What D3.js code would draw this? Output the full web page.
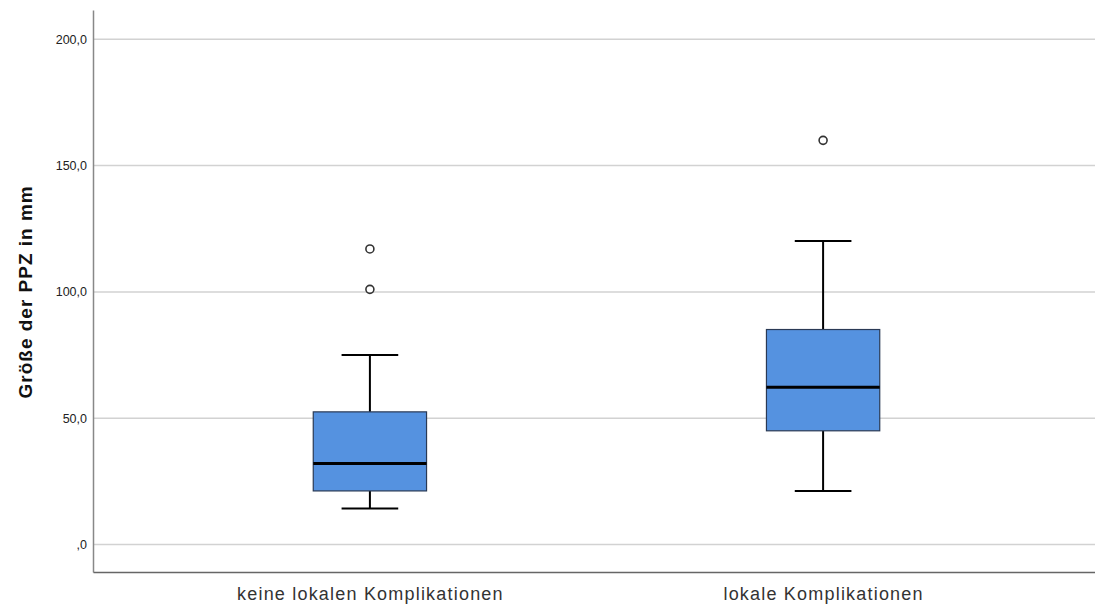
<!DOCTYPE html>
<html><head><meta charset="utf-8">
<script src="https://cdn.jsdelivr.net/npm/d3@7"></script>
<style>body{margin:0;background:#fff}svg{display:block}</style>
</head><body>
<svg id="c" width="1095" height="606"></svg>
<script>
const categories = ["keine lokalen Komplikationen", "lokale Komplikationen"];
const q1 = [21.2, 45.0];
const median = [32.1, 62.2];
const q3 = [52.5, 85.1];
const whiskerLow = [14.2, 21.2];
const whiskerHigh = [75.0, 120.1];
const outliers = [[117.0, 101.0], [160.0]];
const yTicks = [0, 50, 100, 150, 200];
const yTickLabels = [",0", "50,0", "100,0", "150,0", "200,0"];
const yLabel = "Größe der PPZ in mm";

(function () {
const svg = d3.select("#c");
const mLeft = 93, mRight = 1100, mTop = 10, mBottom = 572;
const y = d3.scaleLinear().domain([-10.9, 211.6]).range([mBottom, mTop]);
const x = d3.scalePoint().domain(categories).range([mLeft, mRight]).padding(0.611);
const bw = x.step() * 0.25;
const capW = bw * 0.5;

// gridlines
svg.append("g").selectAll("line").data(yTicks).join("line")
  .attr("x1", mLeft).attr("x2", 1095)
  .attr("y1", d => y(d)).attr("y2", d => y(d))
  .attr("stroke", "#d2d2d2").attr("stroke-width", 1.5);

// y axis
const yAxis = d3.axisLeft(y).tickValues(yTicks).tickSize(0).tickPadding(6)
  .tickFormat((d, i) => yTickLabels[i]);
const gy = svg.append("g").attr("transform", `translate(${mLeft},0)`).call(yAxis);
gy.select(".domain").attr("stroke", "#888").attr("stroke-width", 1.5);
gy.selectAll("text").attr("font-family", "Liberation Sans, Arial, sans-serif")
  .attr("font-size", 12.5).attr("fill", "#222");

// x axis
const xAxis = d3.axisBottom(x).tickSize(0).tickPadding(15);
const gx = svg.append("g").attr("transform", `translate(0,${mBottom})`).call(xAxis);
gx.select(".domain").attr("stroke", "#666").attr("stroke-width", 1.5);
gx.selectAll("text").attr("font-family", "Liberation Sans, Arial, sans-serif")
  .attr("font-size", 18).attr("letter-spacing", "1.2px").attr("fill", "#333");

// y label
svg.append("text")
  .attr("transform", `translate(32,${(y(0)+y(200))/2}) rotate(-90)`)
  .attr("text-anchor", "middle")
  .attr("font-family", "Liberation Sans, Arial, sans-serif")
  .attr("font-weight", "bold").attr("font-size", 19).attr("letter-spacing", "1px").attr("fill", "#111")
  .text(yLabel);

const g = svg.append("g");
categories.forEach((c, i) => {
  const cx = x(c);
  g.append("line").attr("x1", cx).attr("x2", cx).attr("y1", y(q3[i])).attr("y2", y(whiskerHigh[i]))
    .attr("stroke", "#000").attr("stroke-width", 2);
  g.append("line").attr("x1", cx).attr("x2", cx).attr("y1", y(q1[i])).attr("y2", y(whiskerLow[i]))
    .attr("stroke", "#000").attr("stroke-width", 2);
  [whiskerHigh[i], whiskerLow[i]].forEach(v => {
    g.append("line").attr("x1", cx - capW/2).attr("x2", cx + capW/2).attr("y1", y(v)).attr("y2", y(v))
      .attr("stroke", "#000").attr("stroke-width", 2);
  });
  g.append("rect").attr("x", cx - bw/2).attr("width", bw)
    .attr("y", y(q3[i])).attr("height", y(q1[i]) - y(q3[i]))
    .attr("fill", "#5592e0").attr("stroke", "#2a3a55").attr("stroke-width", 1.2);
  g.append("line").attr("x1", cx - bw/2).attr("x2", cx + bw/2).attr("y1", y(median[i])).attr("y2", y(median[i]))
    .attr("stroke", "#000").attr("stroke-width", 3);
  outliers[i].forEach(v => {
    g.append("circle").attr("cx", cx).attr("cy", y(v)).attr("r", 4)
      .attr("fill", "#fff").attr("stroke", "#333").attr("stroke-width", 1.6);
  });
});
})();
</script>
</body></html>
